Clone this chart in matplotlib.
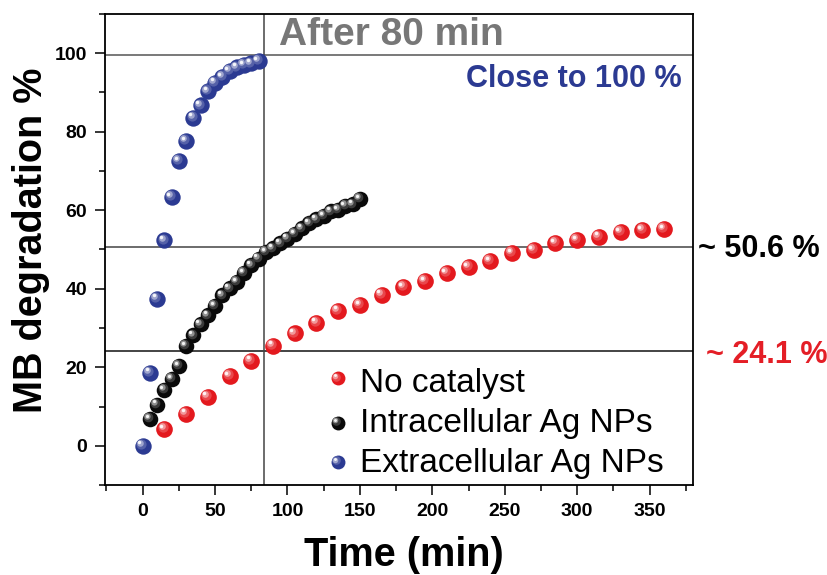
import numpy as np
import matplotlib
matplotlib.use('Agg')
import matplotlib.pyplot as plt
from matplotlib.transforms import ScaledTranslation
from matplotlib.colors import to_rgb

plt.rcParams['font.family'] = ['Liberation Sans', 'DejaVu Sans']

# data
t_none = np.arange(15, 361, 15)
y_none = [4.2, 8.2, 12.5, 17.7, 21.7, 25.5, 28.6, 31.4, 34.4, 35.9, 38.5, 40.4,
          42.0, 44.0, 45.5, 47.1, 49.1, 49.9, 51.6, 52.4, 53.3, 54.4, 55.0, 55.2]

t_intra = np.arange(5, 151, 5)
y_intra = [6.8, 10.5, 14.3, 17.1, 20.3, 25.4, 28.1, 30.9, 33.2, 35.6, 38.3, 40.1,
           41.8, 44.0, 46.0, 47.7, 49.4, 50.3, 51.6, 52.8, 54.0, 55.4, 56.7, 57.7,
           58.5, 59.7, 60.1, 61.1, 61.5, 62.9]

t_extra = np.arange(0, 81, 5)
y_extra = [0.0, 18.6, 37.5, 52.3, 63.3, 72.5, 77.6, 83.6, 86.7, 90.3, 92.5, 94.0,
           95.5, 96.4, 97.0, 97.4, 98.0]

labels = ['No catalyst', 'Intracellular Ag NPs', 'Extracellular Ag NPs']
colors = ['#E3191E', '#0a0a0a', '#2B3A92']
sizes = [12.0, 11.2, 11.8]

t_mark = 84
lvl_full = 99.6
lvl_intra = 50.6
lvl_none = 24.1

fig = plt.figure(figsize=(8.28, 5.75), dpi=100)
ax = fig.add_axes([0.1268, 0.1565, 0.7102, 0.8192])


def balls(x, y, base, d, trans, z):
    # fake 3D sphere: base disc plus lighter discs shifted up-left
    layers = [(1.0, 0.0, 0.0), (0.62, 0.11, 0.2), (0.40, 0.17, 0.55), (0.21, 0.2, 0.95)]
    b = np.array(to_rgb(base))
    for frac, off, mix in layers:
        col = b * (1 - mix) + mix
        tr = trans + ScaledTranslation(-off * d / 72, off * d / 72, fig.dpi_scale_trans)
        ax.scatter(x, y, s=(frac * d) ** 2, color=col, lw=0, transform=tr, zorder=z)


ax.axhline(lvl_full, color='#555555', lw=1.1, zorder=1)
ax.axhline(lvl_intra, color='#444444', lw=1.1, zorder=1)
ax.axhline(lvl_none, color='#111111', lw=1.1, zorder=1)
ax.axvline(t_mark, color='#444444', lw=1.1, zorder=1)

balls(t_none, y_none, colors[0], sizes[0], ax.transData, 3)
balls(t_intra, y_intra, colors[1], sizes[1], ax.transData, 4)
balls(t_extra, y_extra, colors[2], sizes[2], ax.transData, 5)

# legend drawn by hand so the markers keep the sphere look
leg_y = [0.227, 0.132, 0.049]
txt_y = [0.198, 0.113, 0.028]
for i in range(3):
    balls([0.396], [leg_y[i]], colors[i], 10.0, ax.transAxes, 6)
    ax.text(0.434, txt_y[i], labels[i], transform=ax.transAxes, fontsize=24,
            va='baseline', ha='left', zorder=6)

ax.set_xlim(-26, 380)
ax.set_ylim(-10, 110)
ax.set_xticks(np.arange(0, 351, 50))
ax.set_yticks(np.arange(0, 101, 20))
ax.set_xticks(np.arange(-25, 380, 25), minor=True)
ax.set_yticks(np.arange(-10, 111, 10), minor=True)
ax.tick_params(which='major', direction='out', length=7, width=1.1, labelsize=14, pad=6)
ax.tick_params(which='minor', direction='out', length=4, width=1.1)
for lab in ax.get_xticklabels() + ax.get_yticklabels():
    lab.set_fontweight('bold')
for sp in ax.spines.values():
    sp.set_linewidth(1.3)

ax.set_xlabel('Time (min)', fontsize=28.5, fontweight='bold')
ax.set_ylabel('MB degradation %', fontsize=28.5, fontweight='bold')
ax.xaxis.set_label_coords(0.508, -0.108)
ax.yaxis.set_label_coords(-0.094, 0.52)

ax.text(171.4, 102, 'After 80 min', fontsize=28, fontweight='bold', color='#777777',
        ha='center', va='baseline', zorder=6)
ax.text(372, 91.4, 'Close to 100 %', fontsize=22, fontweight='bold', color='#2B3A92',
        ha='right', va='baseline', zorder=6)
fig.text(0.843, 0.5536, '~ 50.6 %', fontsize=22, fontweight='bold', color='black',
         ha='left', va='baseline')
fig.text(0.8527, 0.368, '~ 24.1 %', fontsize=22, fontweight='bold', color='#E41E26',
         ha='left', va='baseline')

fig.savefig('out.png', dpi=100)
